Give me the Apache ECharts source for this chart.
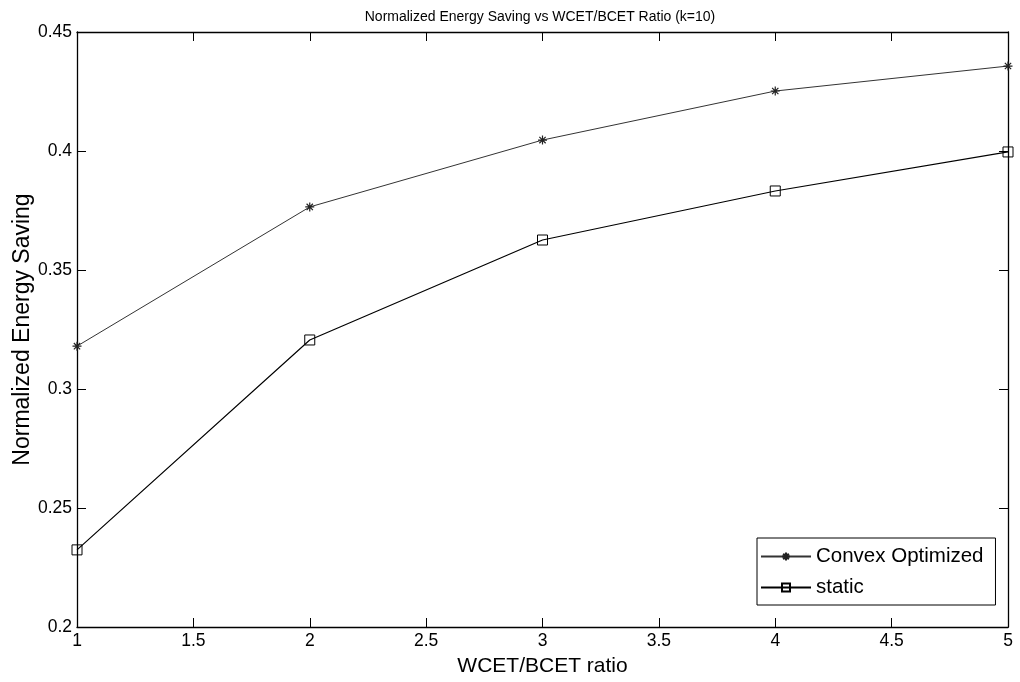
<!DOCTYPE html>
<html>
<head>
<meta charset="utf-8">
<script src="https://cdn.jsdelivr.net/npm/echarts@6/dist/echarts.min.js"></script>
<style>
  html, body { margin: 0; padding: 0; background: #fff; }
  #chart { width: 1020px; height: 682px; }
</style>
</head>
<body>
<div id="chart"></div>
<script>
// WCET/BCET ratios on the x axis
const ratios = [1, 2, 3, 4, 5];
// Normalized energy saving for each scheme
const convexOptimized = [0.318, 0.3765, 0.4046, 0.4252, 0.4357];
const staticSaving = [0.2324, 0.3206, 0.3626, 0.3832, 0.3996];

const FONT = '"Liberation Sans", Arial, sans-serif';

// asterisk and open-square markers drawn as stroked paths
const STAR = 'path://M5,0V10M0,5H10M1.5,1.5L8.5,8.5M8.5,1.5L1.5,8.5';
const SQUARE = 'path://M0,0H10V10H0Z';

const chart = echarts.init(document.getElementById('chart'), null, { renderer: 'canvas' });

const tickStyle = { show: true, inside: true, length: 9, lineStyle: { color: '#000', width: 1 } };
const lineStyle = { show: true, lineStyle: { color: '#000', width: 1.3 } };

chart.setOption({
  animation: false,
  backgroundColor: '#fff',
  title: {
    text: 'Normalized Energy Saving vs WCET/BCET Ratio (k=10)',
    left: 535, top: 5, textAlign: 'center',
    textStyle: { fontFamily: FONT, fontSize: 14, fontWeight: 'normal', color: '#000' }
  },
  grid: { left: 77, right: 12, top: 32, bottom: 55, containLabel: false, outerBoundsMode: 'none' },
  legend: {
    orient: 'vertical',
    left: 757, top: 538,
    itemWidth: 50, itemHeight: 10, itemGap: 10,
    padding: [8, 12, 7, 3],
    borderColor: '#000', borderWidth: 1, borderRadius: 0,
    backgroundColor: '#fff',
    textStyle: { fontFamily: FONT, fontSize: 20.5, color: '#000' },
    data: ['Convex Optimized', 'static']
  },
  xAxis: [{
    type: 'value', min: 1, max: 5, interval: 0.5,
    name: 'WCET/BCET ratio', nameLocation: 'middle', nameGap: 29, nameMoveOverlap: false,
    nameTextStyle: { fontFamily: FONT, fontSize: 21, color: '#000' },
    axisLine: lineStyle, axisTick: tickStyle,
    axisLabel: { fontFamily: FONT, fontSize: 17.5, color: '#000', margin: 5 },
    splitLine: { show: false }
  }, {
    type: 'value', min: 1, max: 5, interval: 0.5, position: 'top',
    axisLine: lineStyle, axisTick: tickStyle,
    axisLabel: { show: false }, splitLine: { show: false }
  }],
  yAxis: [{
    type: 'value', min: 0.2, max: 0.45, interval: 0.05,
    name: 'Normalized Energy Saving', nameLocation: 'middle', nameGap: 43, nameMoveOverlap: false,
    nameTextStyle: { fontFamily: FONT, fontSize: 23, color: '#000' },
    axisLine: lineStyle, axisTick: tickStyle,
    axisLabel: { fontFamily: FONT, fontSize: 17.5, color: '#000', margin: 5 },
    splitLine: { show: false }
  }, {
    type: 'value', min: 0.2, max: 0.45, interval: 0.05, position: 'right',
    axisLine: lineStyle, axisTick: tickStyle,
    axisLabel: { show: false }, splitLine: { show: false }
  }],
  series: [{
    name: 'Convex Optimized',
    type: 'line',
    data: ratios.map((r, i) => [r, convexOptimized[i]]),
    symbol: STAR, symbolSize: 9, showAllSymbol: true,
    lineStyle: { color: '#333', width: 1 },
    itemStyle: { color: 'transparent', borderColor: '#222', borderWidth: 1.2 },
    emphasis: { disabled: true }
  }, {
    name: 'static',
    type: 'line',
    data: ratios.map((r, i) => [r, staticSaving[i]]),
    symbol: SQUARE, symbolSize: 10, showAllSymbol: true,
    lineStyle: { color: '#000', width: 1.2 },
    itemStyle: { color: 'transparent', borderColor: '#000', borderWidth: 1 },
    emphasis: { disabled: true }
  }]
});
</script>
</body>
</html>
